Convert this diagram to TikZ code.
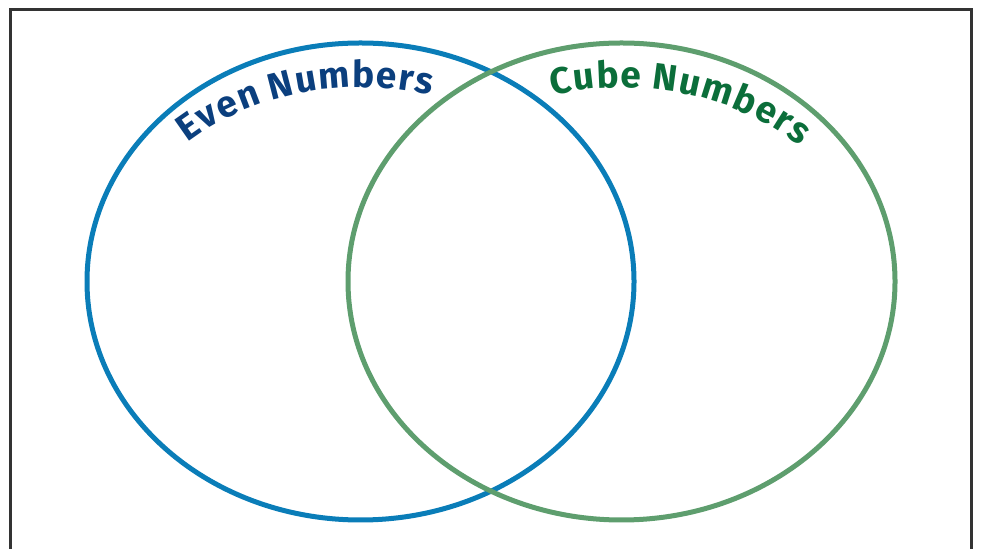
\documentclass[tikz,border=0pt]{standalone}
\usepackage{fontspec}
\setmainfont{Fira Sans}
\usetikzlibrary{decorations.text}
\definecolor{frameC}{HTML}{333333}
\definecolor{evenC}{HTML}{0A7DB8}
\definecolor{cubeC}{HTML}{5E9E6E}
\definecolor{evenT}{HTML}{0B3F7E}
\definecolor{cubeT}{HTML}{0B6E3A}
\begin{document}
\begin{tikzpicture}[x=1pt,y=1pt,
  frame/.style={draw=frameC,line width=3pt},
  setline/.style={line width=5pt},
  lbl/.style={decorate,decoration={text along path,text align=center,
     text={#1}}}]
\useasboundingbox (0,0) rectangle (981,548);
\draw[frame] (10.5,-20) -- (10.5,538.5) -- (971.5,538.5) -- (971.5,-20);
\coordinate (cl) at (360.5,266.5);
\coordinate (cr) at (621.5,266.5);
\draw[evenC,setline] (cl) ellipse [x radius=273.5,y radius=238.5];
\draw[cubeC,setline] (cr) ellipse [x radius=273.5,y radius=238.5];
\path[lbl={|\fontsize{37}{37}\selectfont\bfseries\color{evenT}|E{\kern1.5pt}v{\kern1.5pt}e{\kern1.5pt}n{\kern1.5pt} N{\kern1.5pt}u{\kern1.5pt}m{\kern1.5pt}b{\kern1.5pt}e{\kern1.5pt}r{\kern1.5pt}s}]
  (cl) ++(156:248 and 194) arc[start angle=156,end angle=54,x radius=248,y radius=194];
\path[lbl={|\fontsize{37}{37}\selectfont\bfseries\color{cubeT}|C{\kern1.5pt}u{\kern1.5pt}b{\kern1.5pt}e{\kern1.5pt} N{\kern1.5pt}u{\kern1.5pt}m{\kern1.5pt}b{\kern1.5pt}e{\kern1.5pt}r{\kern1.5pt}s}]
  (cr) ++(125:248 and 194) arc[start angle=125,end angle=23,x radius=248,y radius=194];
\end{tikzpicture}
\end{document}
